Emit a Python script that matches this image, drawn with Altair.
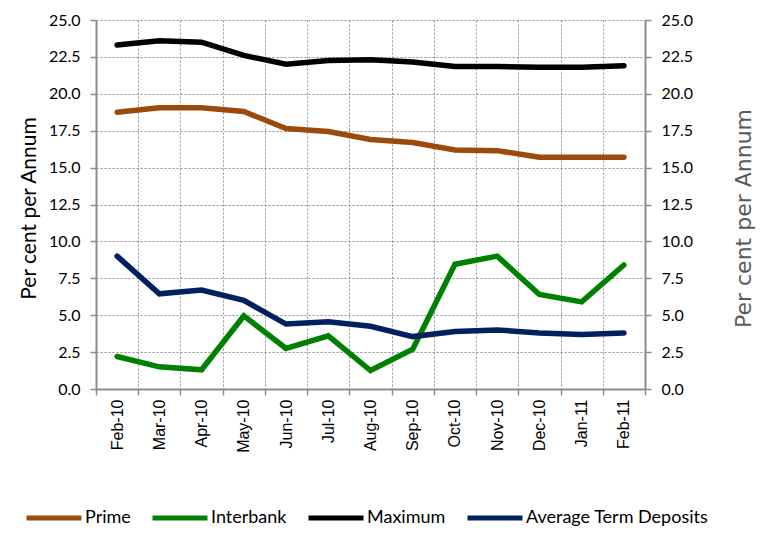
import altair as alt
import pandas as pd

months = ["Feb-10", "Mar-10", "Apr-10", "May-10", "Jun-10", "Jul-10", "Aug-10",
          "Sep-10", "Oct-10", "Nov-10", "Dec-10", "Jan-11", "Feb-11"]
prime = [18.75, 19.05, 19.05, 18.8, 17.65, 17.45, 16.9, 16.7, 16.2, 16.15, 15.7, 15.7, 15.7]
interbank = [2.2, 1.5, 1.3, 4.95, 2.75, 3.6, 1.25, 2.7, 8.45, 9.0, 6.4, 5.9, 8.4]
maximum = [23.3, 23.6, 23.5, 22.6, 22.0, 22.25, 22.3, 22.15, 21.85, 21.85, 21.8, 21.8, 21.9]
avg_term = [9.0, 6.45, 6.7, 6.0, 4.4, 4.55, 4.25, 3.55, 3.9, 4.0, 3.8, 3.7, 3.8]

series_names = ["Prime", "Interbank", "Maximum", "Average Term Deposits"]
series_colors = ["#9C4A0C", "#008000", "#000000", "#002060"]
y_ticks = [0.0, 2.5, 5.0, 7.5, 10.0, 12.5, 15.0, 17.5, 20.0, 22.5, 25.0]

rows = []
for name, vals in zip(series_names, [prime, interbank, maximum, avg_term]):
    for i, (m, v) in enumerate(zip(months, vals)):
        rows.append({"Month": m, "idx": i, "Series": name, "Rate": v})
df = pd.DataFrame(rows)

AXIS_GRAY = "#8c8c8c"
GRID_GRAY = "#8f8f8f"

x_enc = alt.X(
    "Month:N", sort=months,
    scale=alt.Scale(type="band", paddingInner=0, paddingOuter=0),
    axis=alt.Axis(
        title=None, labelAngle=270, labelAlign="right", labelBaseline="middle",
        tickBand="extent", grid=True, gridDash=[2, 2], gridColor=GRID_GRAY,
        gridWidth=1, domainColor=AXIS_GRAY, domainWidth=2, tickColor=AXIS_GRAY,
        tickSize=6, tickWidth=1.5, labelPadding=4, labelFont="Liberation Sans",
        labelFontSize=16, labelColor="black",
    ),
)

color_enc = alt.Color(
    "Series:N", sort=series_names,
    scale=alt.Scale(domain=series_names, range=series_colors),
    legend=alt.Legend(
        title=None, orient="none", legendX=-72, legendY=468, direction="horizontal",
        symbolType="stroke", symbolStrokeWidth=5, symbolSize=3025,
        labelFont="Lato", labelFontSize=18, labelColor="black", labelOffset=1,
        labelLimit=400, columnPadding=11, padding=0, gridAlign="none",
    ),
)

left = alt.Chart(df).mark_line(strokeWidth=5.5, strokeCap="round").encode(
    x=x_enc,
    y=alt.Y("Rate:Q", scale=alt.Scale(domain=[0, 25], nice=False, zero=True),
            axis=alt.Axis(
                values=y_ticks, format=".1f", title="Per cent per Annum",
                titleFont="Lato", titleFontSize=21, titleFontWeight="normal",
                titleColor="black", titlePadding=9, titleY=188,
                labelFont="Lato", labelFontSize=16, labelColor="black", labelPadding=10,
                grid=True, gridDash=[2, 2], gridColor=GRID_GRAY, gridWidth=1,
                domainColor=AXIS_GRAY, domainWidth=2, tickColor=AXIS_GRAY,
                tickSize=6, tickWidth=1.5,
            )),
    color=color_enc,
    order=alt.Order("idx:Q"),
)

right = alt.Chart(df).mark_line(strokeWidth=5, strokeOpacity=0).encode(
    x=x_enc,
    y=alt.Y("Rate:Q", scale=alt.Scale(domain=[0, 25], nice=False, zero=True),
            axis=alt.Axis(
                orient="right", values=y_ticks, format=".1f", title="Per cent per Annum",
                titleFont="DejaVu Sans", titleFontSize=22, titleFontWeight="normal",
                titleColor="#595959", titleAngle=270, titlePadding=63, titleY=198,
                labelFont="Lato", labelFontSize=16, labelColor="black", labelPadding=10,
                grid=False, domainColor=AXIS_GRAY, domainWidth=2, tickColor=AXIS_GRAY,
                tickSize=6, tickWidth=1.5,
            )),
    color=color_enc,
    order=alt.Order("idx:Q"),
)

chart = alt.layer(left, right).resolve_scale(y="independent").properties(
    width=549, height=369,
    autosize=alt.AutoSizeParams(type="none"),
    padding={"left": 88, "top": 12, "right": 111, "bottom": 140},
).configure_view(stroke=None)

chart.save("out.html", embed_options={"renderer": "svg", "actions": False})
